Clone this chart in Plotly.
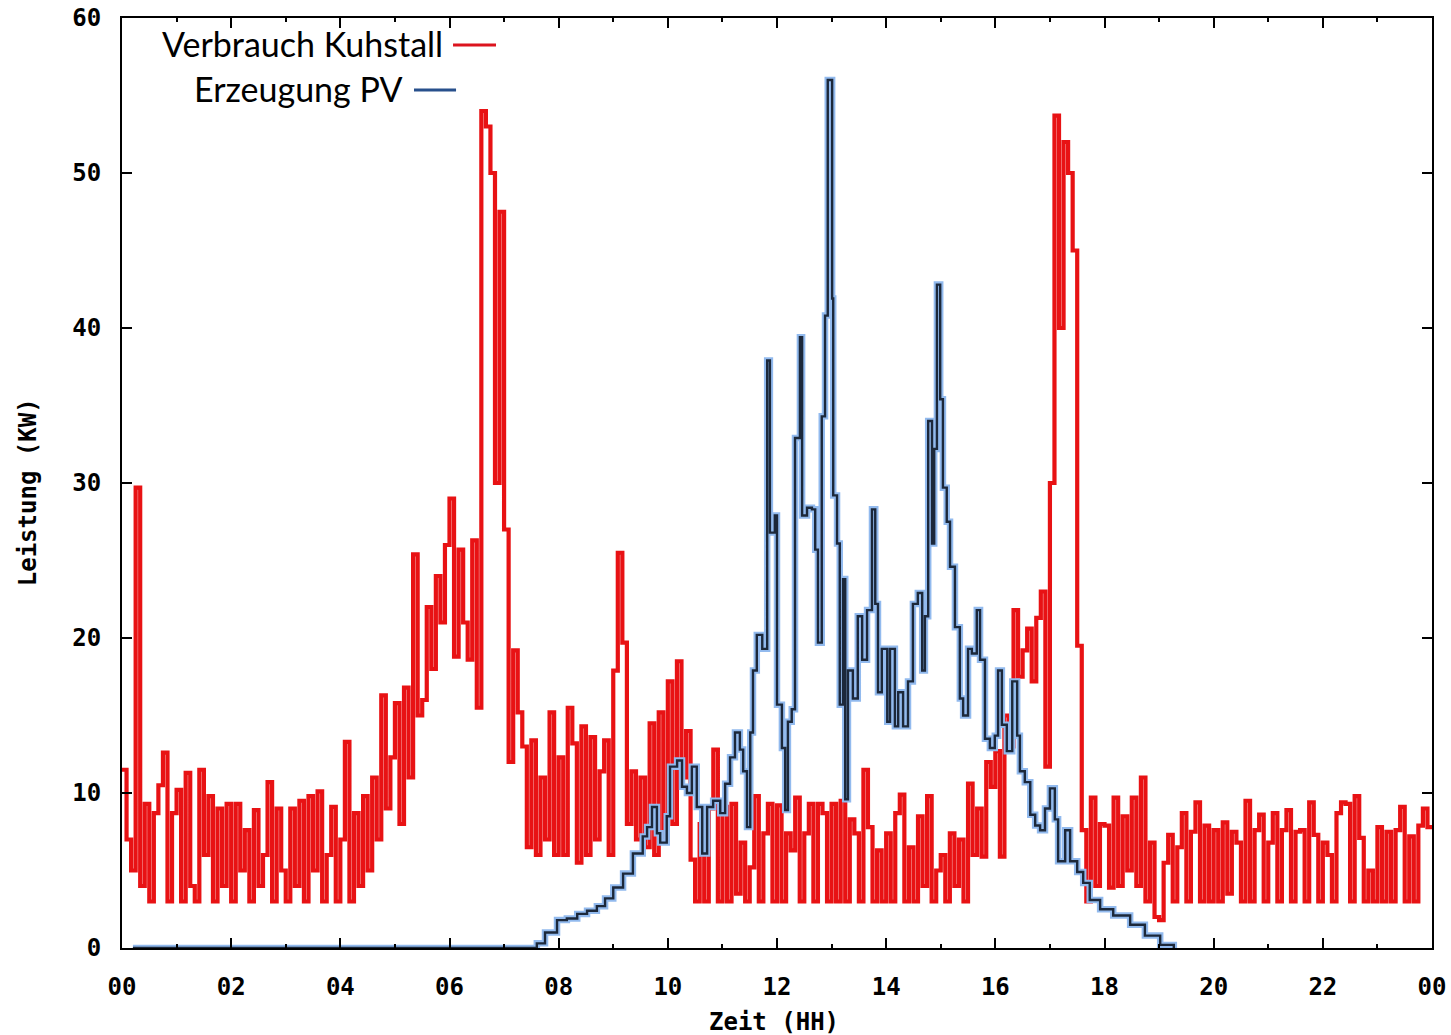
import numpy as np
import plotly.graph_objects as go

# ---------------- data ----------------
STEP_HOURS = 5 / 60.0  # 5-minute readings for the barn consumption

# Verbrauch Kuhstall (kW), one row per hour, 12 x 5-min readings
verbrauch_kw = [
    11.5, 7, 5, 29.7, 4, 9.3, 3, 8.7, 10.5, 12.6, 3, 8.7,          # 00
    10.2, 3, 11.3, 4, 3, 11.5, 6, 9.8, 3, 9, 4, 9.3,               # 01
    3, 9.3, 5, 7.6, 3, 8.9, 4, 6, 10.7, 3, 9, 5,                   # 02
    3, 9, 4, 9.5, 3, 9.8, 5, 10.1, 3, 6, 9.1, 3,                   # 03
    7, 13.3, 3, 8.7, 4, 9.8, 5, 11, 7, 16.3, 9, 12.3,              # 04
    15.8, 8, 16.8, 11, 25.4, 15, 16, 22, 18, 24, 21, 26,           # 05
    29, 18.8, 25.7, 21, 18.6, 26.3, 15.5, 54, 53, 50, 30, 47.5,    # 06
    27, 12, 19.2, 15.2, 13, 6.5, 13.4, 6, 11, 7, 15.2, 6,          # 07
    12.3, 6, 15.5, 13.2, 5.5, 14.3, 6, 13.6, 7, 11.4, 13.4, 6,     # 08
    17.9, 25.5, 19.7, 8, 11.4, 7, 11, 6.5, 14.5, 6, 15.2, 7,       # 09
    17.2, 8, 18.5, 11, 14, 5.7, 3, 8, 3, 9, 12.8, 3,               # 10
    9.1, 3, 9.3, 3.5, 6.8, 3, 5.2, 9.8, 3, 7.4, 9.3, 3,            # 11
    9.2, 3, 7.4, 6.3, 9.7, 3, 7.4, 9.3, 3, 9.3, 8.7, 3,            # 12
    9.3, 3, 9.5, 3, 8.3, 7.4, 3, 11.5, 7.8, 3, 6.3, 3,             # 13
    7.4, 3, 8.7, 9.9, 3, 6.5, 3, 8.5, 4, 9.8, 3, 5,                # 14
    6, 3, 7.4, 4, 7, 3, 10.6, 6, 9, 5.9, 12, 10.4,                 # 15
    12.7, 5.9, 15, 13, 21.8, 17.5, 19.2, 20.6, 17.2, 21.3, 23, 11.7,  # 16
    30, 53.7, 40, 52, 50, 45, 19.5, 7.6, 3, 9.7, 4, 8,             # 17
    7.9, 3.9, 9.7, 4, 8.5, 5, 9.7, 4, 11, 3, 6.8, 2,               # 18
    1.8, 5.5, 7.3, 3, 6.5, 8.7, 3, 7.5, 9.4, 3, 7.9, 3,            # 19
    7.6, 3, 8.1, 3.5, 7.5, 6.8, 3, 9.5, 3, 7.6, 8.6, 3,            # 20
    6.8, 8.7, 3, 7.6, 8.9, 3, 7.5, 7.6, 3, 9.4, 7.3, 3,            # 21
    6.8, 6, 3, 8.7, 9.4, 9.3, 3, 9.8, 7.1, 3, 5, 3,                # 22
    7.8, 3, 7.5, 3, 7.6, 9.1, 3, 7.2, 3, 7.9, 9, 7.8,              # 23
    7.8,
]

# Erzeugung PV: reading times (hours) and power (kW)
pv_hours = [
    0.2, 7.60, 7.75, 7.97, 8.15, 8.34, 8.52, 8.70, 8.85, 9.00, 9.18, 9.36,
    9.54, 9.62, 9.71, 9.80, 9.86, 9.98, 10.04, 10.17, 10.26, 10.35, 10.44,
    10.53, 10.63, 10.72, 10.83, 10.96, 11.05, 11.14, 11.23, 11.32, 11.38,
    11.45, 11.51, 11.56, 11.63, 11.73, 11.82, 11.87, 11.96, 12.00, 12.09,
    12.15, 12.20, 12.27, 12.33, 12.42, 12.46, 12.55, 12.64, 12.70, 12.75,
    12.82, 12.88, 12.93, 13.01, 13.03, 13.10, 13.15, 13.21, 13.25, 13.30,
    13.39, 13.48, 13.56, 13.65, 13.74, 13.80, 13.85, 13.92, 14.02, 14.07,
    14.16, 14.22, 14.31, 14.40, 14.49, 14.58, 14.66, 14.71, 14.77, 14.84,
    14.88, 14.93, 14.99, 15.04, 15.11, 15.17, 15.26, 15.35, 15.41, 15.50,
    15.57, 15.66, 15.72, 15.81, 15.90, 15.99, 16.05, 16.12, 16.21, 16.31,
    16.40, 16.45, 16.54, 16.64, 16.73, 16.82, 16.91, 17.00, 17.09, 17.15,
    17.28, 17.37, 17.50, 17.61, 17.73, 17.92, 18.16, 18.47, 18.74, 19.02,
    19.27,
]
pv_kw = [
    0, 0.3, 1.0, 1.8, 1.9, 2.2, 2.4, 2.7, 3.2, 3.9, 4.8, 6.1,
    7.2, 7.8, 9.1, 7.4, 6.8, 8.5, 11.7, 12.1, 10.4, 10.0, 11.7,
    9.1, 6.1, 9.1, 9.5, 8.7, 10.6, 12.3, 13.9, 12.8, 11.4,
    7.8, 13.9, 17.9, 20.2, 19.3, 37.9, 26.8, 27.9, 15.7, 12.9,
    8.9, 14.6, 15.4, 32.9, 39.4, 27.9, 28.4, 28.3, 25.7, 19.7,
    34.3, 40.8, 56, 41.9, 29.2, 26.1, 15.7, 23.8, 9.6, 17.9,
    16.1, 21.4, 18.6, 21.8, 28.3, 22.2, 16.5, 19.3, 14.6, 19.3,
    14.3, 16.5, 14.3, 17.2, 22.2, 22.9, 17.9, 21.4, 34, 26.1,
    32.2, 42.8, 35.4, 29.7, 27.5, 24.6, 20.7, 16.1, 15, 19.3,
    19, 21.8, 18.6, 13.5, 12.9, 13.7, 17.9, 14.4, 12.7, 17.2,
    13.7, 11.4, 10.7, 8.6, 7.9, 7.6, 9, 10.3, 8.3, 5.6,
    7.6, 5.6, 4.9, 4.2, 3.1, 2.5, 2.1, 1.5, 0.8, 0.2,
    0,
]

x_tick_vals = list(range(0, 25, 2))
x_tick_text = ["00", "02", "04", "06", "08", "10", "12", "14", "16", "18", "20", "22", "00"]
y_tick_vals = [0, 10, 20, 30, 40, 50, 60]

legend_names = ["Verbrauch Kuhstall", "Erzeugung PV"]

# ---------------- figure ----------------
verbrauch_hours = np.arange(len(verbrauch_kw)) * STEP_HOURS

fig = go.Figure()
fig.add_trace(go.Scatter(
    x=verbrauch_hours, y=verbrauch_kw, mode="lines", line_shape="hv",
    line=dict(color="rgb(232,18,20)", width=4.2), showlegend=False,
    name=legend_names[0]))
# light blue halo under the PV line
fig.add_trace(go.Scatter(
    x=pv_hours, y=pv_kw, mode="lines", line_shape="hv",
    line=dict(color="rgb(146,186,238)", width=6.5), showlegend=False,
    hoverinfo="skip"))
fig.add_trace(go.Scatter(
    x=pv_hours, y=pv_kw, mode="lines", line_shape="hv",
    line=dict(color="rgb(28,40,58)", width=2.4), showlegend=False,
    name=legend_names[1]))

tick_font = dict(family="DejaVu Sans Mono", size=24, color="black", weight="bold")

fig.update_layout(
    width=1451, height=1035,
    margin=dict(l=122, r=19, t=18, b=87),
    paper_bgcolor="white", plot_bgcolor="white",
    showlegend=False,
    xaxis=dict(
        range=[0, 24], tickvals=x_tick_vals, ticktext=x_tick_text,
        ticks="inside", ticklen=10, tickwidth=1.5, tickcolor="black",
        minor=dict(dtick=1, ticks="inside", ticklen=4, tickwidth=1.5, tickcolor="black"),
        showline=True, linecolor="black", linewidth=2, mirror="ticks",
        showgrid=False, zeroline=False, tickfont=tick_font,
        ticklabelstandoff=16, automargin=False,
    ),
    yaxis=dict(
        range=[0, 60], tickvals=y_tick_vals,
        ticks="inside", ticklen=10, tickwidth=1.5, tickcolor="black",
        showline=True, linecolor="black", linewidth=2, mirror="ticks",
        showgrid=False, zeroline=False, tickfont=tick_font,
        ticklabelstandoff=14, automargin=False,
    ),
)

# axis titles
fig.add_annotation(text="Leistung (KW)", xref="paper", yref="paper",
                   x=-0.0718, y=0.49, xanchor="center", yanchor="middle",
                   textangle=-90, showarrow=False,
                   font=dict(family="DejaVu Sans Mono", size=24, color="black", weight="bold"))
fig.add_annotation(text="Zeit (HH)", xref="paper", yref="paper",
                   x=0.498, y=-0.0796, xanchor="center", yanchor="middle",
                   showarrow=False,
                   font=dict(family="DejaVu Sans Mono", size=24, color="black", weight="bold"))

# legend (text left of the sample line)
legend_font = dict(family="Lato", size=34, color="black")
fig.add_annotation(text=legend_names[0], xref="paper", yref="paper",
                   x=0.2466, y=0.9731, xanchor="right", yanchor="middle",
                   showarrow=False, font=legend_font)
fig.add_annotation(text=legend_names[1], xref="paper", yref="paper",
                   x=0.2160, y=0.9247, xanchor="right", yanchor="middle",
                   showarrow=False, font=legend_font)
fig.add_shape(type="line", xref="paper", yref="paper",
              x0=0.2527, x1=0.2855, y0=0.9710, y1=0.9710,
              line=dict(color="rgb(220,20,30)", width=3))
fig.add_shape(type="line", xref="paper", yref="paper",
              x0=0.2229, x1=0.2550, y0=0.9226, y1=0.9226,
              line=dict(color="rgb(40,80,140)", width=3))

fig.write_html("out.html")
